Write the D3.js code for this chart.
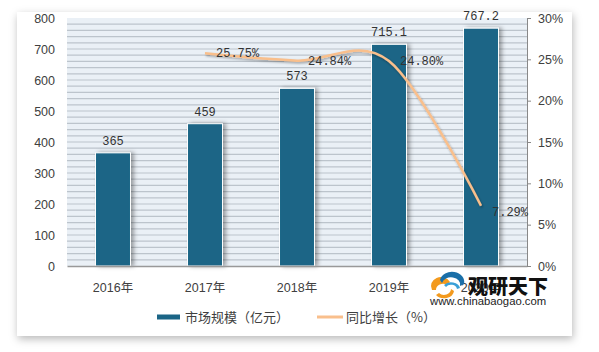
<!DOCTYPE html>
<html>
<head>
<meta charset="utf-8">
<script src="https://cdn.jsdelivr.net/npm/d3@7"></script>
<style>
  body { margin: 0; background: #fff; }
  svg { display: block; }
</style>
</head>
<body>
<svg id="chart" width="599" height="352"></svg>
<script>
(function () {
  const years = ["2016年", "2017年", "2018年", "2019年", "2020年"];
  const market = [365, 459, 573, 715.1, 767.2];
  const marketLabels = ["365", "459", "573", "715.1", "767.2"];
  const growth = [null, 25.75, 24.84, 24.80, 7.29];
  const growthLabels = [null, "25.75%", "24.84%", "24.80%", "7.29%"];
  const leftTicks = [0, 100, 200, 300, 400, 500, 600, 700, 800];
  const rightTicks = [0, 5, 10, 15, 20, 25, 30];

  const svg = d3.select("#chart"),
    margin = { top: 18, right: 72, bottom: 86, left: 67 },
    width = +svg.attr("width") - margin.left - margin.right,
    height = +svg.attr("height") - margin.top - margin.bottom;

  const defs = svg.append("defs");
  const cardShadow = defs.append("filter").attr("id", "cardShadow")
    .attr("x", "-10%").attr("y", "-10%").attr("width", "120%").attr("height", "120%");
  cardShadow.append("feDropShadow").attr("dx", 1).attr("dy", 3).attr("stdDeviation", 4)
    .attr("flood-color", "#000").attr("flood-opacity", 0.28);
  const barShadow = defs.append("filter").attr("id", "barShadow")
    .attr("x", "-30%").attr("y", "-10%").attr("width", "160%").attr("height", "120%");
  barShadow.append("feDropShadow").attr("dx", 3).attr("dy", 0).attr("stdDeviation", 2)
    .attr("flood-color", "#000").attr("flood-opacity", 0.35);
  const lineShadow = defs.append("filter").attr("id", "lineShadow")
    .attr("x", "-10%").attr("y", "-10%").attr("width", "120%").attr("height", "130%");
  lineShadow.append("feDropShadow").attr("dx", 1).attr("dy", 1.5).attr("stdDeviation", 1)
    .attr("flood-color", "#000").attr("flood-opacity", 0.35);

  // card
  svg.append("rect")
    .attr("x", 17).attr("y", 12).attr("width", 555).attr("height", 324)
    .attr("fill", "#fff").attr("filter", "url(#cardShadow)");

  const chart = svg.append("g").attr("transform", `translate(${margin.left},${margin.top})`);

  const x = d3.scaleBand().domain(years).range([0, width]).paddingInner(0.62).paddingOuter(0.31);
  const y = d3.scaleLinear().domain([0, 800]).range([height, 0]);
  const y2 = d3.scaleLinear().domain([0, 30]).range([height, 0]);

  // plot background with stripes
  chart.append("rect")
    .attr("width", width).attr("height", height)
    .attr("fill", "#eaf0f6");
  chart.append("g")
    .selectAll("line")
    .data(d3.range(20, 800, 20))
    .enter().append("line")
    .attr("x1", 0).attr("x2", width)
    .attr("y1", d => y(d)).attr("y2", d => y(d))
    .attr("stroke", "#bcc4cc").attr("stroke-width", 1.2);

  // bars
  chart.selectAll(".bar")
    .data(market)
    .enter().append("rect")
    .attr("class", "bar")
    .attr("x", (d, i) => x(years[i]))
    .attr("y", d => y(d))
    .attr("width", x.bandwidth())
    .attr("height", d => height - y(d))
    .attr("fill", "#1b6586")
    .attr("stroke", "#fff")
    .attr("stroke-width", 1)
    .attr("filter", "url(#barShadow)");

  chart.selectAll(".barLabel")
    .data(market)
    .enter().append("text")
    .attr("x", (d, i) => x(years[i]) + x.bandwidth() / 2)
    .attr("y", d => y(d) - 8)
    .attr("text-anchor", "middle")
    .style("font-family", "'Liberation Mono', monospace")
    .style("font-size", "12px")
    .style("fill", "#333")
    .text((d, i) => marketLabels[i]);

  // axes
  const xAxis = chart.append("g")
    .attr("transform", `translate(0,${height})`)
    .call(d3.axisBottom(x).tickSize(0).tickPadding(17));
  xAxis.select(".domain").attr("stroke", "#999").attr("stroke-width", 1.5);
  xAxis.selectAll("text")
    .style("font-family", "'Liberation Sans', 'Noto Sans CJK SC', sans-serif")
    .style("font-size", "12.5px").style("fill", "#404040");

  const yAxis = chart.append("g")
    .call(d3.axisLeft(y).tickValues(leftTicks).tickSize(0).tickPadding(12));
  yAxis.select(".domain").remove();
  yAxis.selectAll("text")
    .style("font-family", "'Liberation Sans', sans-serif")
    .style("font-size", "12.5px").style("fill", "#404040");

  const y2Axis = chart.append("g")
    .attr("transform", `translate(${width},0)`)
    .call(d3.axisRight(y2).tickValues(rightTicks).tickFormat(d => d + "%").tickSize(4).tickPadding(7));
  y2Axis.select(".domain").attr("stroke", "#888");
  y2Axis.selectAll(".tick line").attr("stroke", "#888");
  y2Axis.selectAll("text")
    .style("font-family", "'Liberation Sans', sans-serif")
    .style("font-size", "12.5px").style("fill", "#404040");

  // growth line
  const pts = growth.map((g, i) => ({ year: years[i], g: g, label: growthLabels[i] }))
    .filter(d => d.g !== null);
  const line = d3.line()
    .x(d => x(d.year) + x.bandwidth() / 2)
    .y(d => y2(d.g))
    .curve(d3.curveCardinal.tension(0));
  chart.append("path")
    .datum(pts)
    .attr("d", line)
    .attr("fill", "none")
    .attr("stroke", "#f9bf8c")
    .attr("stroke-width", 2.5)
    .attr("filter", "url(#lineShadow)");

  chart.selectAll(".lineLabel")
    .data(pts)
    .enter().append("text")
    .attr("x", d => x(d.year) + x.bandwidth() / 2 + 11)
    .attr("y", (d, i) => y2(d.g) + (i === pts.length - 1 ? 10 : 4))
    .style("font-family", "'Liberation Mono', monospace")
    .style("font-size", "12px")
    .style("fill", "#333")
    .text(d => d.label);

  // legend
  const legend = svg.append("g").attr("transform", "translate(157,317)");
  legend.append("rect").attr("x", 0).attr("y", -2.5).attr("width", 23).attr("height", 5).attr("fill", "#1b6586");
  legend.append("text").attr("x", 28).attr("y", 5)
    .style("font-family", "'Noto Sans CJK SC', sans-serif").style("font-size", "13px").style("fill", "#404040")
    .text("市场规模（亿元）");
  legend.append("line").attr("x1", 160).attr("x2", 186).attr("y1", 0).attr("y2", 0)
    .attr("stroke", "#f9bf8c").attr("stroke-width", 3);
  legend.append("text").attr("x", 189).attr("y", 5)
    .style("font-family", "'Noto Sans CJK SC', sans-serif").style("font-size", "13px").style("fill", "#404040")
    .text("同比增长（%）");

  // watermark
  const wm = svg.append("g").attr("transform", "translate(430,276)");
  wm.append("path").attr("d", "M2,14 A10,9 0 0 1 20,6 L17,9 A7,6 0 0 0 6,14 Z").attr("fill", "#f39a1e");
  wm.append("path").attr("d", "M6,19 A10,8 0 0 0 24,15 L21,13 A7,6 0 0 1 9,17 Z").attr("fill", "#f39a1e");
  wm.append("path").attr("d", "M10,4 A12,10 0 0 1 34,8 L30,10 A9,7 0 0 0 12,7 Z").attr("fill", "#1a6fa8");
  wm.append("path").attr("d", "M14,9 A9,7 0 0 1 30,12 L27,13 A6,5 0 0 0 16,11 Z").attr("fill", "#3aa0d8");
  wm.append("text").attr("x", 38).attr("y", 18)
    .style("font-family", "'Noto Sans CJK SC', sans-serif").style("font-size", "20px").style("font-weight", "900").style("fill", "#111")
    .text("观研天下");
  wm.append("text").attr("x", 0).attr("y", 29)
    .style("font-family", "'Liberation Sans', sans-serif").style("font-size", "11.3px").style("fill", "#222")
    .text("www.chinabaogao.com");
})();
</script>
</body>
</html>
